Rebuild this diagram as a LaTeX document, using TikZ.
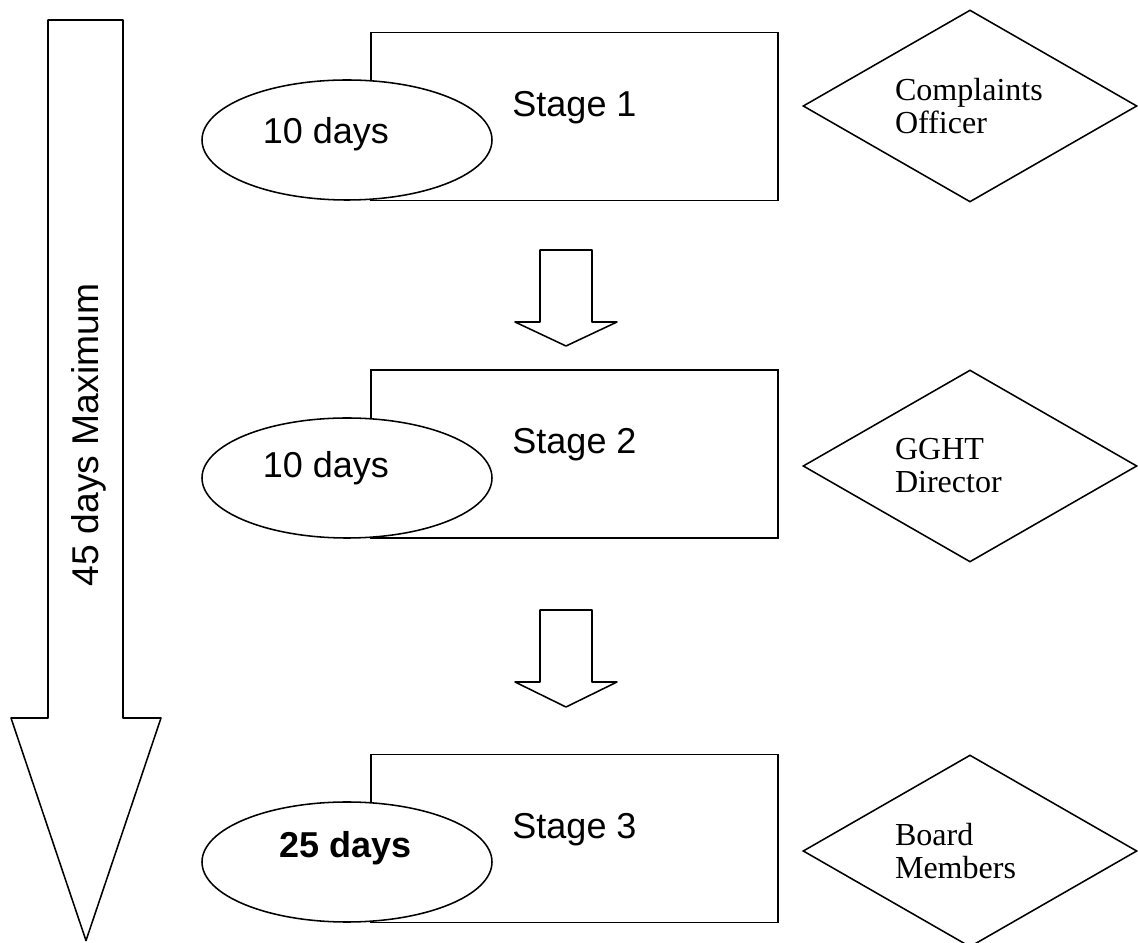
\documentclass[tikz,border=0pt]{standalone}
\usepackage{fontspec}
\setmainfont{Liberation Serif}
\setsansfont{Liberation Sans}
\usepackage{tkz-euclide}
\usetikzlibrary{shapes.geometric}

\tikzset{
    stagebox/.style={draw, rectangle, minimum width=10.175cm, minimum height=4.2cm, inner sep=0pt},
    dayell/.style={draw, ellipse, fill=white, minimum width=7.25cm, minimum height=3cm, inner sep=0pt},
    roledia/.style={draw, diamond, aspect=1.74, minimum width=8.35cm, minimum height=4.8cm, inner sep=0pt,
        font=\rmfamily\fontsize{22.8}{23.5}\selectfont, text width=3.75cm, align=left},
    bigtxt/.style={anchor=base, inner sep=0pt, font=\sffamily\fontsize{25.6}{30}\selectfont},
    blockarrow/.style={draw=black, fill=white, line width=1.1pt}
}

\begin{document}
\begin{tikzpicture}[line width=1.1pt]
            \useasboundingbox (0,0) rectangle (28.45,23.575);

            \tkzDefPoints{1.2/23.075/A_t, 3.075/23.075/B_t, 3.075/5.625/B_h, 4.025/5.625/C_h,
                2.15/0.06/T_b, 0.275/5.625/D_h, 1.2/5.625/A_h}
            \tkzDrawPolygon[blockarrow](A_t,B_t,B_h,C_h,T_b,D_h,A_h)
            \node[bigtxt, rotate=90, font=\sffamily\fontsize{26.5}{30}\selectfont] (max) at (2.47,12.7) {45 days Maximum};

            %%%%%%%%%%%%%%%%%%%%
            \node[stagebox] (s1) at (14.3625,20.6625) {};
            \node[dayell] (e1) at (8.675,20.075) {};
            \node[bigtxt] (t1) at (s1.center) {Stage 1};
            \node[bigtxt] (d1) at ([shift={(-0.525,-0.08)}]e1.center) {10 days};
            \node[roledia] (r1) at (24.25,20.925) {Complaints\\Officer};

            \tkzDefPoints{13.5/17.325/a_1, 14.8/17.325/b_1, 14.8/15.525/c_1, 15.425/15.525/d_1,
                14.15/14.925/t_1, 12.875/15.525/e_1, 13.5/15.525/f_1}
            \tkzDrawPolygon[blockarrow](a_1,b_1,c_1,d_1,t_1,e_1,f_1)

            %%%%%%%%%%%%%%%%%%%%
            \node[stagebox] (s2) at (14.3625,12.225) {};
            \node[dayell] (e2) at (8.675,11.625) {};
            \node[bigtxt] (t2) at (s2.center) {Stage 2};
            \node[bigtxt] (d2) at ([xshift=-0.525cm]e2.center) {10 days};
            \node[roledia] (r2) at (24.25,11.925) {GGHT\\Director};

            \tkzDefPoints{13.5/8.325/a_2, 14.8/8.325/b_2, 14.8/6.525/c_2, 15.425/6.525/d_2,
                14.15/5.9/t_2, 12.875/6.525/e_2, 13.5/6.525/f_2}
            \tkzDrawPolygon[blockarrow](a_2,b_2,c_2,d_2,t_2,e_2,f_2)

            %%%%%%%%%%%%%%%%%%%%
            \node[stagebox] (s3) at (14.3625,2.6125) {};
            \node[dayell] (e3) at (8.675,2.025) {};
            \node[bigtxt] (t3) at (s3.center) {Stage 3};
            \node[bigtxt, font=\sffamily\bfseries\fontsize{25.6}{30}\selectfont] (d3) at ([shift={(-0.04,0.1)}]e3.center) {25 days};
            \node[roledia] (r3) at (24.25,2.3) {Board\\Members};
            %\tkzDrawPoints(A_t,B_t,T_b)
\end{tikzpicture}
\end{document}
